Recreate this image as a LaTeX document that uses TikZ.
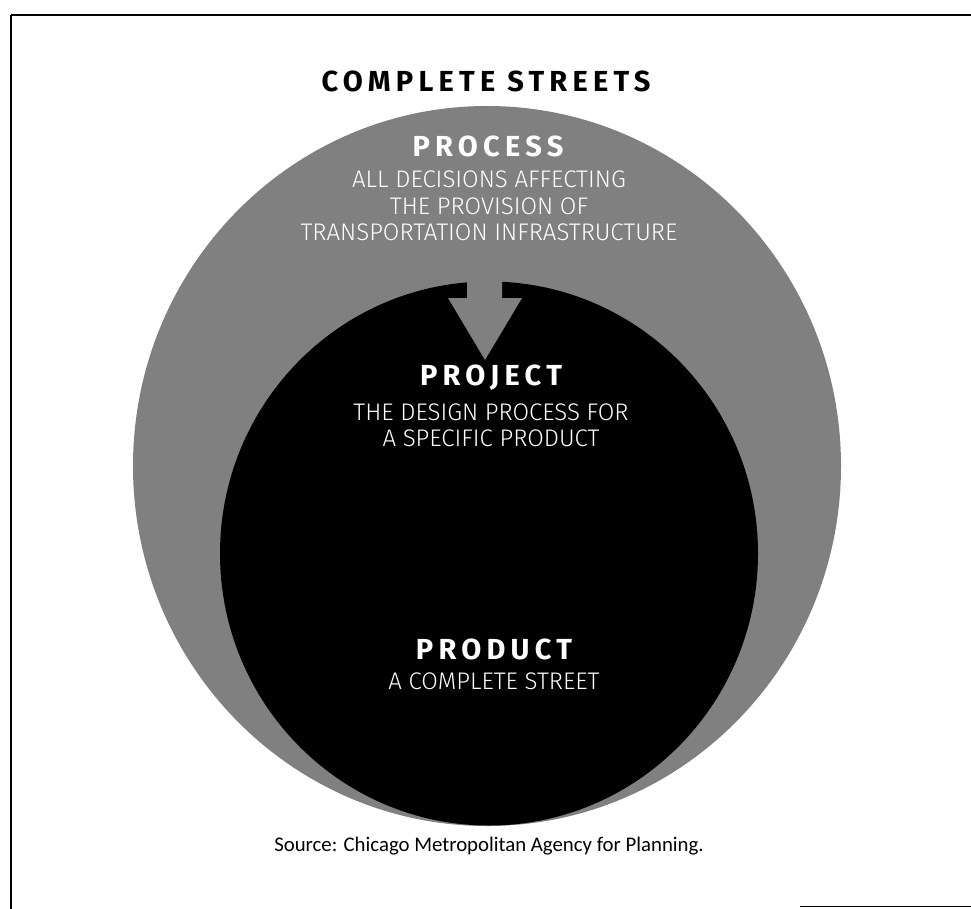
\documentclass[tikz,border=0pt]{standalone}
\usepackage{fontspec}
\setmainfont{Fira Sans}
\newfontfamily\lightfont{Fira Sans Light}
\newfontfamily\notefont{Carlito}
\usepackage{tikz}
\definecolor{ring}{RGB}{128,128,128}
\tikzset{
  heading/.style={font=\fontsize{29}{31}\selectfont\bfseries\addfontfeatures{LetterSpace=18},
                  inner sep=0pt},
  caption/.style={font=\lightfont\fontsize{24}{26.5}\selectfont, text=white,
                  align=center, inner sep=0pt},
  frame/.style={line width=1.5pt, black}
}

\begin{document}
\begin{tikzpicture}[x=1pt, y=-1pt]
  \useasboundingbox (0,0) rectangle (971,909);
  % page frame
  \draw[frame] (11,15) -- (971,15);
  \draw[frame] (11,15) -- (11,909);
  \draw[frame, line width=1pt] (800,906) -- (971,906);

  % process ring, project disc and the arrow between them
  \fill[ring] (487,466) ellipse [x radius=354, y radius=360];
  \fill[black] (489,553.5) ellipse [x radius=269, y radius=272];
  \fill[ring] (467,250) -- (502,250) -- (502,298) -- (522,298)
    -- (485,360) -- (448,298) -- (467,298) -- cycle;

  \node[heading] (title) at (486,81) {COMPLETE STREETS};

  \node[heading, text=white] (process) at (488,146) {PROCESS};
  \node[caption] (processtxt) at (489,206)
    {ALL DECISIONS AFFECTING\\THE PROVISION OF\\TRANSPORTATION INFRASTRUCTURE};

  \node[heading, text=white] (project) at (491,378) {PROJECT};
  \node[caption] (projecttxt) at (491,425.5)
    {THE DESIGN PROCESS FOR\\A SPECIFIC PRODUCT};

  \node[heading, text=white] (product) at (494,649) {PRODUCT};
  \node[caption] (producttxt) at (494,681) {A COMPLETE STREET};

  \node[font=\notefont\fontsize{20.8}{23}\selectfont, inner sep=0pt] (source)
    at (489,846) {Source: Chicago Metropolitan Agency for Planning.};
\end{tikzpicture}
\end{document}
